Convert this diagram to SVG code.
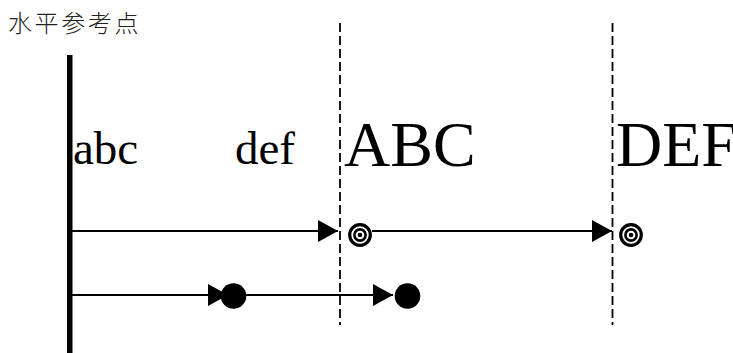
<svg xmlns="http://www.w3.org/2000/svg" width="733" height="353" viewBox="0 0 733 353">
<style>
.lbl{font-family:"Liberation Serif","Times New Roman",serif;fill:#000}
.cjk{font-family:"Noto Sans CJK SC","Noto Sans CJK JP",sans-serif;fill:#222;font-weight:300}
.dash{stroke:#000;stroke-width:1.8;stroke-dasharray:9 4;fill:none}
.arr{stroke:#000;stroke-width:1.8;fill:none;marker-end:url(#ah)}
.ring{fill:none;stroke:#000}
</style>
<defs>
<marker id="ah" markerUnits="userSpaceOnUse" markerWidth="21" markerHeight="22" refX="20" refY="11" orient="auto" viewBox="0 0 21 22">
<path d="M0,0 L20,11 L0,22 z" fill="#000"/>
</marker>
<g id="bull">
<circle r="10.3" class="ring" stroke-width="3.2"/>
<circle r="5.6" class="ring" stroke-width="2.6"/>
<circle r="2.3" fill="#000"/>
</g>
</defs>
<rect width="733" height="353" fill="#fff"/>
<text class="cjk" x="8" y="32" font-size="24" letter-spacing="2.6">水平参考点</text>
<g id="axis"><rect x="67" y="55" width="5.5" height="298" fill="#000"/></g>
<g id="ref1"><line class="dash" x1="340" y1="23" x2="340" y2="325"/></g>
<g id="ref2"><line class="dash" x1="612.5" y1="23" x2="612.5" y2="325"/></g>
<g id="labels">
<text class="lbl" x="73" y="164" font-size="47">abc</text>
<text class="lbl" x="235" y="164" font-size="47">def</text>
<text class="lbl" x="344" y="166" font-size="64">ABC</text>
<text class="lbl" x="616" y="166" font-size="64">DEF</text>
</g>
<g id="connectors">
<line class="arr" x1="72" y1="231" x2="338" y2="231"/>
<line class="arr" x1="372" y1="231" x2="612" y2="231"/>
<line class="arr" x1="72" y1="295" x2="228" y2="295"/>
<line class="arr" x1="246" y1="295" x2="393" y2="295"/>
</g>
<g id="target1"><use href="#bull" x="360" y="235"/></g>
<g id="target2"><use href="#bull" x="631" y="235"/></g>
<g id="dot1"><circle cx="233.5" cy="296" r="12.8" fill="#000"/></g>
<g id="dot2"><circle cx="407.5" cy="296" r="12.8" fill="#000"/></g>
</svg>
